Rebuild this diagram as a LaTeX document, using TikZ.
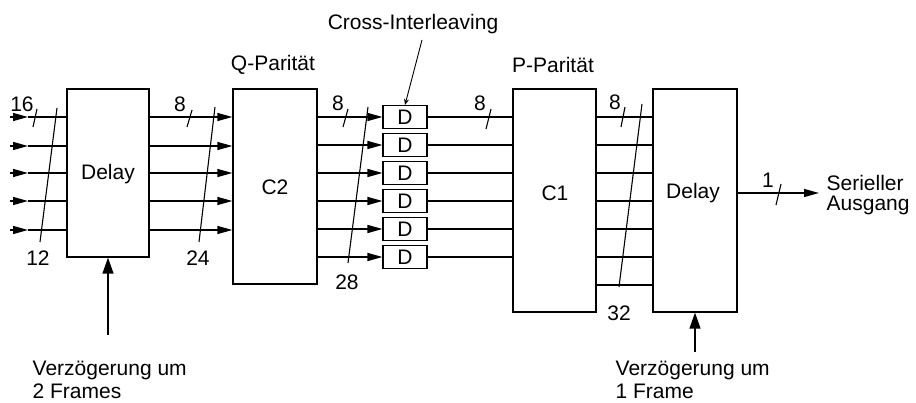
\documentclass[tikz,border=0pt]{standalone}
\usepackage{fontspec}
\setmainfont{Liberation Sans}
\usetikzlibrary{arrows.meta}
\begin{document}
\begin{tikzpicture}[x=1pt,y=-1pt, line width=1.3pt,
  box/.style={draw, rectangle, inner sep=0pt, line width=1.3pt},
  txt/.style={font=\fontsize{21}{23}\selectfont, inner sep=0pt},
  arr/.style={-{Triangle[length=15pt,width=8pt]}},
  uparr/.style={-{Triangle[length=16pt,width=11pt]}},
  slash/.style={line width=1.1pt}]
\useasboundingbox (0,0) rectangle (916,403);

% boxes
\node[box, minimum width=82pt, minimum height=168pt] (d1) at (108,173) {};
\node[txt] (d1t) at (108,174) {Delay};
\node[box, minimum width=84pt, minimum height=195pt] (c2) at (275,186.5) {};
\node[txt] (c2t) at (275,187) {C2};
\node[box, minimum width=83pt, minimum height=223pt] (c1) at (554.5,200.5) {};
\node[txt] (c1t) at (555,193) {C1};
\node[box, minimum width=84pt, minimum height=223pt] (d2) at (695,200.5) {};
\node[txt] (d2t) at (693,193) {Delay};

\foreach \i/\y in {1/117,2/145,3/173,4/201,5/229,6/257}{
  \node[box, line width=1.1pt, minimum width=44pt, minimum height=23pt, font=\fontsize{21}{23}\selectfont] (D\i) at (405,\y) {D};
}

% labels above
\node[txt] (qp) at (273,65) {Q-Parität};
\node[txt] (pp) at (553,65) {P-Parität};
\node[txt] (ci) at (413,24) {Cross-Interleaving};
\coordinate (cl) at (422,40);
\draw[line width=0.9pt, -{Stealth[length=6pt,width=5pt]}] (cl) -- (D1.north);

% inputs to Delay 1 and Delay 1 to C2
\foreach \i/\y in {1/117,2/146,3/173,4/201,5/230}{
  \coordinate (in\i) at (10,\y);
  \coordinate (ia\i) at (28,\y);
  \draw[arr] (in\i) -- (ia\i);
  \draw (ia\i) -- (d1.west |- ia\i);
  \draw[arr] (d1.east |- in\i) -- (c2.west |- in\i);
}

% C2 to D and D to C1
\foreach \i in {1,...,6}{
  \draw[arr] (c2.east |- D\i.west) -- (D\i.west);
  \draw (D\i.east) -- (c1.west |- D\i.east);
}

% C1 to Delay 2
\foreach \i/\y in {1/117,2/145,3/173,4/201,5/229,6/257,7/285}{
  \coordinate (r\i) at (620,\y);
  \draw (c1.east |- r\i) -- (d2.west |- r\i);
}

% output
\coordinate (out) at (819,193);
\draw[arr] (d2.east |- out) -- (out);
\node[txt, font=\fontsize{21}{20}\selectfont, anchor=west, align=left] (so) at (826,195) {Serieller\\Ausgang};

% delay control inputs
\coordinate (v1) at (108,335);
\draw[uparr] (v1) -- (d1.south);
\node[txt, anchor=north west, align=left] (v1t) at (32,360) {Verzögerung um\\2 Frames};
\coordinate (v2) at (695,352);
\draw[uparr] (v2) -- (d2.south);
\node[txt, anchor=north west, align=left] (v2t) at (615,360) {Verzögerung um\\1 Frame};

% bus slashes and widths
\draw[slash] (33,127) -- (37,109);
\node[txt] (n16) at (22,104) {16};
\draw[slash] (57,108) -- (40,242);
\node[txt] (n12) at (38,258) {12};

\draw[slash] (187,127) -- (192,110);
\node[txt] (n8a) at (180,104) {8};
\draw[slash] (215,107) -- (199,242);
\node[txt] (n24) at (198,258) {24};

\draw[slash] (343,127) -- (348,109);
\node[txt] (n8b) at (338,103) {8};
\draw[slash] (368,107) -- (348,263);
\node[txt] (n28) at (347,282) {28};

\draw[slash] (486,129) -- (491,109);
\node[txt] (n8c) at (480,103) {8};

\draw[slash] (621,127) -- (625,107);
\node[txt] (n8d) at (615,102) {8};
\draw[slash] (642,104) -- (619,287);
\node[txt] (n32) at (619,313) {32};

\draw[slash] (776,205) -- (781,184);
\node[txt] (n1) at (768,180) {1};
\end{tikzpicture}
\end{document}
